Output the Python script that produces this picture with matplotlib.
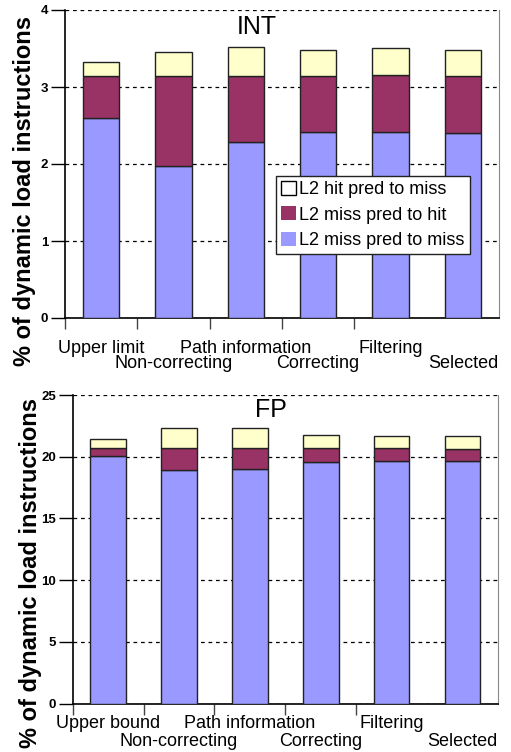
import matplotlib
matplotlib.use('Agg')
import matplotlib.pyplot as plt
import matplotlib.transforms as mtransforms
from matplotlib.patches import Patch
import numpy as np

# INT panel
int_labels = ['Upper limit', 'Non-correcting', 'Path information',
              'Correcting', 'Filtering', 'Selected']
int_miss_miss = [2.60, 1.98, 2.28, 2.41, 2.41, 2.40]
int_miss_hit = [0.54, 1.16, 0.86, 0.73, 0.75, 0.74]
int_hit_miss = [0.18, 0.32, 0.38, 0.34, 0.34, 0.34]

# FP panel
fp_labels = ['Upper bound', 'Non-correcting', 'Path information',
             'Correcting', 'Filtering', 'Selected']
fp_miss_miss = [20.03, 18.95, 19.03, 19.57, 19.63, 19.63]
fp_miss_hit = [0.68, 1.76, 1.68, 1.14, 1.08, 1.02]
fp_hit_miss = [0.75, 1.59, 1.59, 1.02, 1.00, 1.06]

series_names = ['L2 hit pred to miss', 'L2 miss pred to hit', 'L2 miss pred to miss']
colors = {'hm': '#FFFFCC', 'mh': '#993366', 'mm': '#9999FF'}

plt.rcParams['font.family'] = ['Liberation Sans', 'DejaVu Sans']


def draw_panel(ax, labels, mm, mh, hm, ymax, ystep, title, title_xy, lab_y):
    x = np.arange(len(labels))
    mm = np.array(mm)
    mh = np.array(mh)
    hm = np.array(hm)
    kw = dict(width=0.5, edgecolor='#222222', linewidth=1.0, zorder=3)
    ax.bar(x, mm, color=colors['mm'], **kw)
    ax.bar(x, mh, bottom=mm, color=colors['mh'], **kw)
    ax.bar(x, hm, bottom=mm + mh, color=colors['hm'], **kw)

    ax.set_xlim(-0.5, len(labels) - 0.5)
    ax.set_ylim(0, ymax)
    yt = np.arange(0, ymax + 0.01, ystep)
    ax.set_yticks(yt)
    ax.set_yticklabels([f'{v:g}' for v in yt], fontsize=9.5, fontweight='bold')
    ax.yaxis.grid(True, linestyle=(0, (3, 3)), color='black', linewidth=0.9, zorder=0)
    ax.set_axisbelow(True)

    ax.set_xticks(np.arange(len(labels) - 1) - 0.5)
    ax.set_xticklabels([])
    ax.tick_params(axis='x', direction='out', length=8, width=1, color='#444444')
    ax.tick_params(axis='y', direction='out', length=10, width=1, pad=2)

    ax.spines['top'].set_visible(False)
    ax.spines['right'].set_color('#888888')
    ax.spines['left'].set_linewidth(1.2)
    ax.spines['bottom'].set_linewidth(1.2)

    trans = mtransforms.blended_transform_factory(ax.transData, ax.transAxes)
    for i, lab in enumerate(labels):
        ax.text(i, lab_y[i % 2], lab, transform=trans, ha='center', va='baseline',
                fontsize=13, clip_on=False)

    ax.text(title_xy[0], title_xy[1], title, transform=ax.transAxes,
            ha='center', va='center', fontsize=18)


fig = plt.figure(figsize=(5.11, 7.52), dpi=100)
ax1 = fig.add_axes([65 / 511, 1 - 318 / 752, 434 / 511, 308 / 752])
ax2 = fig.add_axes([72.7 / 511, 1 - 703.7 / 752, 425.3 / 511, 308.7 / 752])

draw_panel(ax1, int_labels, int_miss_miss, int_miss_hit, int_hit_miss, 4, 1,
           'INT', (0.442, 0.946), (-0.115, -0.163))
draw_panel(ax2, fp_labels, fp_miss_miss, fp_miss_hit, fp_hit_miss, 25, 5,
           'FP', (0.466, 0.951), (-0.08, -0.137))

handles = [Patch(facecolor='white', edgecolor='black', linewidth=1.0),
           Patch(facecolor=colors['mh'], edgecolor='none'),
           Patch(facecolor=colors['mm'], edgecolor='none')]
leg = ax1.legend(handles, series_names, loc='upper left',
                 bbox_to_anchor=(0.4855, 0.462), borderaxespad=0,
                 fontsize=13, fancybox=False, framealpha=1, edgecolor='#222222',
                 handlelength=0.8, handleheight=0.8, handletextpad=0.2,
                 labelspacing=0.45, borderpad=0.3)
leg.get_frame().set_linewidth(1.0)
leg.set_zorder(5)

fig.text(25 / 511, 1 - 191 / 752, '% of dynamic load instructions', rotation=90,
         ha='center', va='center', fontsize=17, fontweight='bold')
fig.text(31 / 511, 1 - 573 / 752, '% of dynamic load instructions', rotation=90,
         ha='center', va='center', fontsize=17, fontweight='bold')

fig.savefig('out.png', dpi=100)
